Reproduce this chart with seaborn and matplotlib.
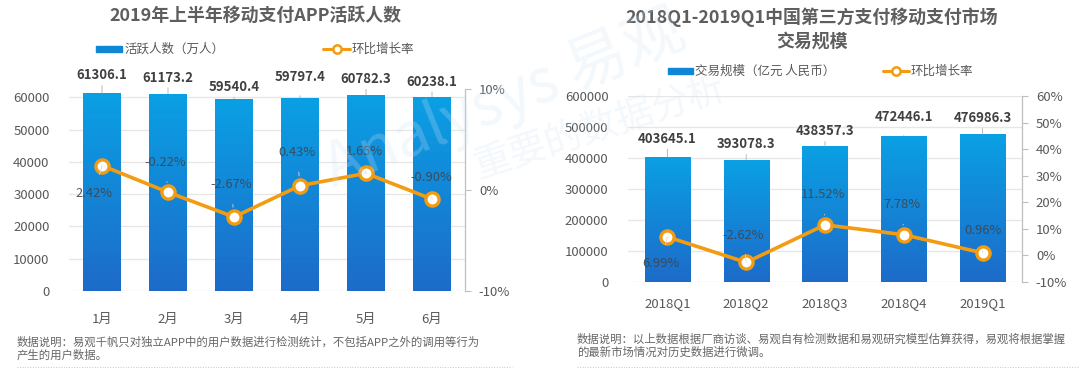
import numpy as np
import pandas as pd
import matplotlib
matplotlib.use('Agg')
import matplotlib.pyplot as plt
import seaborn as sns
from matplotlib.colors import LinearSegmentedColormap
from matplotlib.lines import Line2D
from matplotlib.patches import Rectangle

# ---------------- data ----------------
months = ['1月', '2月', '3月', '4月', '5月', '6月']
active_users = [61306.1, 61173.2, 59540.4, 59797.4, 60782.3, 60238.1]
user_growth = [2.42, -0.22, -2.67, 0.43, 1.65, -0.90]

quarters = ['2018Q1', '2018Q2', '2018Q3', '2018Q4', '2019Q1']
trade_volume = [403645.1, 393078.3, 438357.3, 472446.1, 476986.3]
trade_growth = [6.99, -2.62, 11.52, 7.78, 0.96]

left_title = '2019年上半年移动支付APP活跃人数'
right_title = '2018Q1-2019Q1中国第三方支付移动支付市场\n交易规模'
left_bar_name = '活跃人数（万人）'
right_bar_name = '交易规模（亿元 人民币）'
line_name = '环比增长率'
left_note = ['数据说明：易观千帆只对独立APP中的用户数据进行检测统计，不包括APP之外的调用等行为',
             '产生的用户数据。']
right_note = ['数据说明：以上数据根据厂商访谈、易观自有检测数据和易观研究模型估算获得，易观将根据掌握',
              '的最新市场情况对历史数据进行微调。']

# ---------------- style ----------------
sns.set_theme(style='white')
plt.rcParams['font.family'] = ['Noto Sans CJK SC', 'DejaVu Sans']
plt.rcParams['axes.unicode_minus'] = False

ORANGE = '#f39c12'
GRAY_TXT = '#595959'
LBL = '#404040'
GRID = '#e6e6e6'
SPINE = '#bfbfbf'
BLUE = '#0f8ad8'
cmap = LinearSegmentedColormap.from_list('bar', ['#1d6bc9', '#0aa0e4'])

W, H = 1080, 370
fig = plt.figure(figsize=(W / 100, H / 100), dpi=100)
fig.patch.set_facecolor('white')


def px(x, y):
    return x / W, 1 - y / H


def rect(x0, x1, ytop, ybot):
    return [x0 / W, 1 - ybot / H, (x1 - x0) / W, (ybot - ytop) / H]


def panel(ax, cats, vals, growth, ylim_l, yticks_l, ylim_r, yticks_r,
          val_off, pct_off, xpad):
    df = pd.DataFrame({'cat': cats, 'val': vals, 'g': growth})
    n = len(cats)
    sns.barplot(data=df, x='cat', y='val', ax=ax, color=BLUE, width=0.575,
                saturation=1, zorder=2)
    grad = np.linspace(0, 1, 256).reshape(-1, 1)
    for p in ax.patches:
        x0, y0, w, h = p.get_x(), p.get_y(), p.get_width(), p.get_height()
        im = ax.imshow(grad, cmap=cmap, origin='lower', aspect='auto',
                       extent=[x0, x0 + w, y0, y0 + h], zorder=2)
        im.set_clip_path(p)
        p.set_facecolor('none')
        p.set_edgecolor('none')
    ax.set_xlim(-0.5, n - 0.5)
    ax.set_ylim(*ylim_l)
    ax.set_yticks(yticks_l)
    ax.set_yticklabels([f'{int(v)}' for v in yticks_l])
    ax.grid(axis='y', color=GRID, lw=0.9)
    ax.grid(axis='x', visible=False)
    ax.set_axisbelow(True)
    for s in ax.spines.values():
        s.set_visible(False)
    ax.tick_params(axis='y', length=0, pad=14, labelsize=9.5, labelcolor=GRAY_TXT)
    ax.tick_params(axis='x', length=0, pad=xpad, labelsize=9.5, labelcolor=GRAY_TXT)
    ax.set_xlabel('')
    ax.set_ylabel('')

    # value labels
    for i, v in enumerate(vals):
        ax.annotate(f'{v:.1f}', xy=(i, v), xytext=(0, val_off[i]),
                    textcoords='offset pixels', ha='center', va='center',
                    fontsize=9.5, fontweight='bold', color=LBL, zorder=6,
                    annotation_clip=False,
                    arrowprops=dict(arrowstyle='-', color='#b0b0b0', lw=0.6,
                                    shrinkA=6, shrinkB=0))

    axr = ax.twinx()
    sns.pointplot(data=df, x='cat', y='g', ax=axr, color=ORANGE, markers='o',
                  linestyles='-', linewidth=2.6, markersize=9.5,
                  markerfacecolor='white', markeredgecolor=ORANGE,
                  markeredgewidth=2.4, errorbar=None)
    axr.set_xlim(-0.5, n - 0.5)
    axr.set_ylim(*ylim_r)
    axr.set_yticks(yticks_r)
    axr.set_yticklabels([f'{int(v)}%' for v in yticks_r])
    axr.grid(False)
    for k, s in axr.spines.items():
        s.set_visible(k == 'right')
    axr.spines['right'].set_color(SPINE)
    axr.spines['right'].set_linewidth(0.9)
    axr.tick_params(axis='y', length=4, width=0.8, color=SPINE, pad=6,
                    labelsize=9.5, labelcolor=GRAY_TXT)
    axr.set_xlabel('')
    axr.set_ylabel('')
    for i, g in enumerate(growth):
        dx, dy = pct_off[i]
        axr.annotate(f'{g:.2f}%', xy=(i, g), xytext=(dx, dy),
                     textcoords='offset pixels', ha='center', va='center',
                     fontsize=9.3, color='#3c4650', alpha=0.9, zorder=6,
                     arrowprops=dict(arrowstyle='-', color='#d9d9d9', lw=0.6,
                                     shrinkA=7, shrinkB=7))
    return axr


ax1 = fig.add_axes(rect(69, 465, 89, 291))
panel(ax1, months, active_users, user_growth,
      (0, 62600), [0, 10000, 20000, 30000, 40000, 50000, 60000],
      (-10, 10), [-10, 0, 10],
      [18, 16, 12, 21, 16, 15],
      [(-8, -28), (-3, 30), (-3, 32), (-3, 33), (-2, 22), (-1, 22)], 16)

ax2 = fig.add_axes(rect(628, 1022, 96, 282))
panel(ax2, quarters, trade_volume, trade_growth,
      (0, 600000), [0, 100000, 200000, 300000, 400000, 500000, 600000],
      (-10, 60), [-10, 0, 10, 20, 30, 40, 50, 60],
      [18, 16, 15, 19, 16],
      [(-7, -27), (-3, 27), (-2, 30), (-2, 30), (0, 22)], 11)

# ---------------- titles ----------------
fig.text(*px(255, 16), left_title, ha='center', va='center', fontsize=12.9,
         fontweight='bold', color='#5e5e5e')
fig.text(*px(812, 29), right_title, ha='center', va='center', fontsize=12.9,
         fontweight='bold', color='#5e5e5e', linespacing=1.4)


# ---------------- legends ----------------
def legend_bar(x0, x1, yc, label):
    fig.add_artist(Rectangle(px(x0, yc + 3), (x1 - x0) / W, 6 / H,
                             transform=fig.transFigure, color='#0f86d6'))
    fig.text(*px(x1 + 2, yc), label, ha='left', va='center', fontsize=9,
             color=GRAY_TXT)


def legend_line(x0, x1, yc, label):
    (a, b), (c, d) = px(x0, yc), px(x1, yc)
    fig.add_artist(Line2D([a, c], [b, d], transform=fig.transFigure,
                          color=ORANGE, lw=2.2))
    fig.add_artist(Line2D([(a + c) / 2], [b], transform=fig.transFigure,
                          marker='o', markersize=6, markerfacecolor='white',
                          markeredgecolor=ORANGE, markeredgewidth=1.8))
    fig.text(*px(x1 + 2, yc), label, ha='left', va='center', fontsize=9,
             color=GRAY_TXT)


legend_bar(96, 122, 49, left_bar_name)
legend_line(323, 350, 49, line_name)
legend_bar(668, 693, 71, right_bar_name)
legend_line(883, 909, 71, line_name)

# ---------------- notes ----------------
for i, line in enumerate(left_note):
    fig.text(*px(17, 342 + 13 * i), line, ha='left', va='center',
             fontsize=8.2, color='#666666')
for i, line in enumerate(right_note):
    fig.text(*px(577, 339 + 13 * i), line, ha='left', va='center',
             fontsize=8.2, color='#666666')
for xa, xb in [(17, 512), (577, 1078)]:
    (a, b), (c, d) = px(xa, 367), px(xb, 367)
    fig.add_artist(Line2D([a, c], [b, d], transform=fig.transFigure,
                          color='#c8c8c8', lw=0.7, linestyle=':'))

# ---------------- watermark ----------------
fig.text(*px(505, 100), 'Analysys 易观', ha='center', va='center',
         fontsize=44, rotation=22, color='#cfe3f5', alpha=0.25,
         style='italic', zorder=10)
fig.text(*px(600, 128), '重要的数据分析', ha='center', va='center',
         fontsize=27, rotation=18, color='#cfe3f5', alpha=0.25, zorder=10)

fig.savefig('out.png', dpi=100, facecolor='white')
